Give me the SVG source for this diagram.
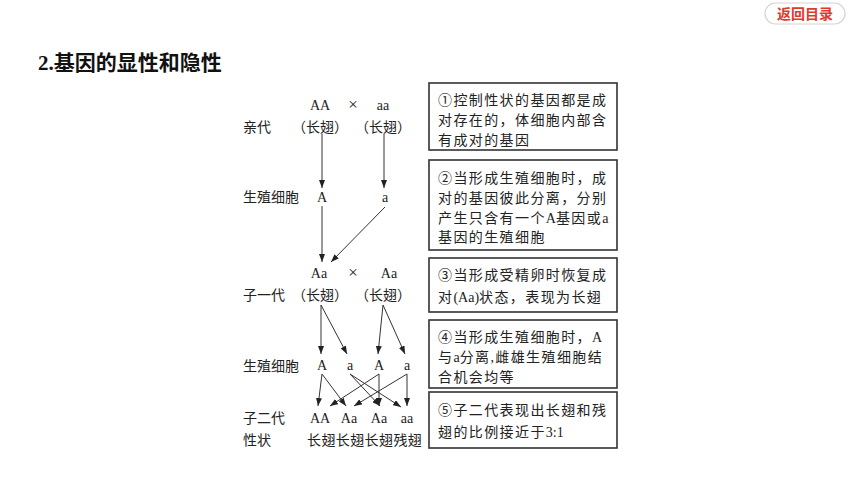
<svg xmlns="http://www.w3.org/2000/svg" width="860" height="484" viewBox="0 0 860 484">
<defs>
<marker id="ah" markerUnits="userSpaceOnUse" markerWidth="8" markerHeight="6" refX="8" refY="3" orient="auto">
<path d="M0,0 L8,3 L0,6 z" fill="#222"/>
</marker>
<style>
.t{font-family:"Liberation Serif","Noto Sans CJK SC",serif;font-size:14px;fill:#222}
.c{text-anchor:middle}
.x{font-size:17px}
.bx{fill:#fff;stroke:#333;stroke-width:1.6}
.bt{font-family:"Liberation Serif","Noto Sans CJK SC",serif;font-size:14px;fill:#222;letter-spacing:1.4px}
.la{letter-spacing:0}
.ln{stroke:#333;stroke-width:1;fill:none;marker-end:url(#ah)}
</style>
</defs>
<rect width="860" height="484" fill="#fff"/>
<g id="back-button">
<rect x="765" y="3" width="80" height="21" rx="10.5" fill="#fff" stroke="#d4d4d4" stroke-width="1.2"/>
<text x="805" y="19" text-anchor="middle" style="font-family:'Noto Sans CJK SC',sans-serif;font-size:14px;font-weight:bold;fill:#e03a2f">返回目录</text>
</g>
<g id="title">
<text x="38" y="70" style="font-family:'Liberation Serif','Noto Sans CJK SC',serif;font-size:21px;font-weight:bold;fill:#111">2.基因的显性和隐性</text>
</g>
<g id="row-labels" class="t">
<text x="243" y="132">亲代</text>
<text x="243" y="202">生殖细胞</text>
<text x="243" y="300">子一代</text>
<text x="243" y="371">生殖细胞</text>
<text x="243" y="423">子二代</text>
<text x="243" y="445">性状</text>
</g>
<g id="parents" class="t c">
<text x="320" y="110">AA</text>
<text class="x" x="353" y="110">×</text>
<text x="383" y="110">aa</text>
<text x="320" y="132">（长翅）</text>
<text x="383" y="132">（长翅）</text>
</g>
<g id="gametes1" class="t c">
<text x="322" y="202">A</text>
<text x="385" y="202">a</text>
</g>
<g id="f1" class="t c">
<text x="319" y="278">Aa</text>
<text class="x" x="353" y="278">×</text>
<text x="389" y="278">Aa</text>
<text x="320" y="300">（长翅）</text>
<text x="383" y="300">（长翅）</text>
</g>
<g id="gametes2" class="t c">
<text x="322" y="370">A</text>
<text x="350" y="370">a</text>
<text x="379" y="370">A</text>
<text x="407" y="370">a</text>
</g>
<g id="f2" class="t">
<text x="320" y="423" text-anchor="middle">AA</text>
<text x="349" y="423" text-anchor="middle">Aa</text>
<text x="379" y="423" text-anchor="middle">Aa</text>
<text x="407" y="423" text-anchor="middle">aa</text>
<text x="307" y="445" style="letter-spacing:0.4px">长翅长翅长翅残翅</text>
</g>
<g id="connectors">
<line class="ln" x1="322" y1="134" x2="322" y2="188"/>
<line class="ln" x1="384" y1="134" x2="384" y2="188"/>
<line class="ln" x1="322" y1="206" x2="322" y2="262"/>
<line class="ln" x1="385" y1="207" x2="331" y2="262"/>
<line class="ln" x1="321" y1="305" x2="321" y2="354"/>
<line class="ln" x1="321" y1="305" x2="347" y2="354"/>
<line class="ln" x1="383" y1="305" x2="378" y2="354"/>
<line class="ln" x1="383" y1="305" x2="405" y2="354"/>
<line class="ln" x1="322" y1="374" x2="318" y2="406"/>
<line class="ln" x1="322" y1="374" x2="346" y2="406"/>
<line class="ln" x1="350" y1="374" x2="380" y2="406"/>
<line class="ln" x1="350" y1="374" x2="401" y2="407"/>
<line class="ln" x1="379" y1="374" x2="379" y2="406"/>
<line class="ln" x1="379" y1="374" x2="330" y2="406"/>
<line class="ln" x1="407" y1="374" x2="354" y2="406"/>
<line class="ln" x1="407" y1="374" x2="407" y2="406"/>
</g>
<g id="box1">
<rect class="bx" x="429" y="83" width="188" height="67"/>
<text class="bt" x="438" y="105">①控制性状的基因都是成</text>
<text class="bt" x="438" y="125">对存在的，体细胞内部含</text>
<text class="bt" x="438" y="145">有成对的基因</text>
</g>
<g id="box2">
<rect class="bx" x="429" y="160" width="188" height="90"/>
<text class="bt" x="438" y="183">②当形成生殖细胞时，成</text>
<text class="bt" x="438" y="203">对的基因彼此分离，分别</text>
<text class="bt" x="438" y="223">产生只含有一个<tspan class="la">A</tspan>基因或<tspan class="la">a</tspan></text>
<text class="bt" x="438" y="242">基因的生殖细胞</text>
</g>
<g id="box3">
<rect class="bx" x="429" y="258" width="188" height="54"/>
<text class="bt" x="438" y="280">③当形成受精卵时恢复成</text>
<text class="bt" x="438" y="302">对<tspan class="la">(Aa)</tspan>状态，表现为长翅</text>
</g>
<g id="box4">
<rect class="bx" x="429" y="320" width="188" height="68"/>
<text class="bt" x="438" y="342">④当形成生殖细胞时，<tspan class="la">A</tspan></text>
<text class="bt" x="438" y="362">与<tspan class="la">a</tspan>分离,雌雄生殖细胞结</text>
<text class="bt" x="438" y="382">合机会均等</text>
</g>
<g id="box5">
<rect class="bx" x="429" y="392" width="188" height="56"/>
<text class="bt" x="438" y="415">⑤子二代表现出长翅和残</text>
<text class="bt" x="438" y="437">翅的比例接近于<tspan class="la">3:1</tspan></text>
</g>
</svg>
